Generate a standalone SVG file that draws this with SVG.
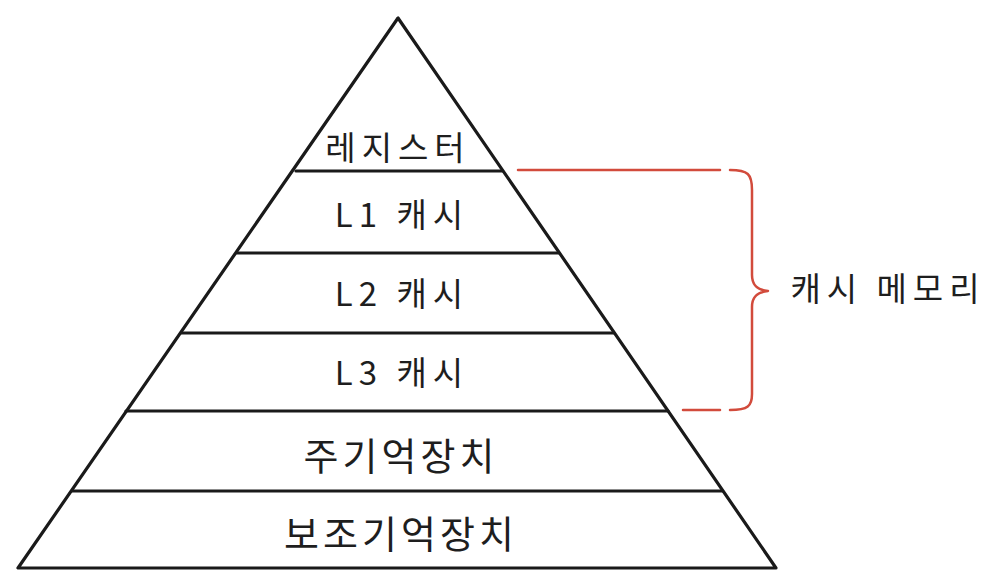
<svg xmlns="http://www.w3.org/2000/svg" width="1006" height="584" viewBox="0 0 1006 584">
<style>
.ln{stroke:#1a1a1a;stroke-width:3.2;fill:none;stroke-linecap:round;stroke-linejoin:round}
.br{stroke:#d24b3c;stroke-width:2.5;fill:none;stroke-linecap:round;stroke-linejoin:round}
.t{font-family:"Noto Sans CJK KR","Noto Sans",sans-serif;font-weight:400;fill:#1e1e1e;text-anchor:middle;dominant-baseline:central}
.s{font-size:33px;letter-spacing:6px}
.b{font-size:38px;letter-spacing:4px}
</style>
<rect width="1006" height="584" fill="#ffffff"/>
<g id="pyramid">
<path class="ln" d="M398,18 L18,568 L776,568 Z"/>
</g>
<g id="connectors">
<line class="ln" x1="296" y1="171" x2="502" y2="171"/>
<line class="ln" x1="237" y1="253" x2="559" y2="253"/>
<line class="ln" x1="181" y1="333" x2="614" y2="333"/>
<line class="ln" x1="126" y1="411" x2="668" y2="411"/>
<line class="ln" x1="72" y1="491" x2="722" y2="491"/>
</g>
<g id="register"><text class="t s" x="398" y="146">레지스터</text></g>
<g id="l1"><text class="t s" x="402" y="213">L1 캐시</text></g>
<g id="l2"><text class="t s" x="402" y="292">L2 캐시</text></g>
<g id="l3"><text class="t s" x="402" y="371">L3 캐시</text></g>
<g id="main"><text class="t b" x="401" y="453">주기억장치</text></g>
<g id="secondary"><text class="t b" x="401" y="531">보조기억장치</text></g>
<g id="cache-bracket">
<line class="br" x1="518" y1="170" x2="720" y2="170"/>
<line class="br" x1="683" y1="410" x2="720" y2="410"/>
<path class="br" d="M730,170 C748,170 752,174 752,190 L752,275 C752,286 758,290 768,291 C758,292 752,296 752,307 L752,394 C752,406 748,410 730,410"/>
<text class="t s" x="888" y="287">캐시 메모리</text>
</g>
</svg>
